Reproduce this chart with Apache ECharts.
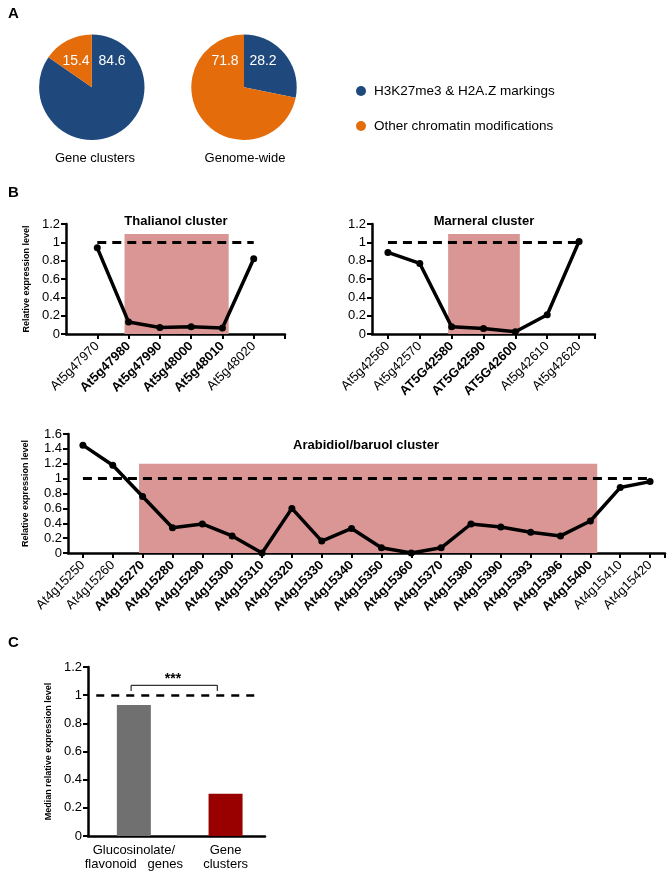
<!DOCTYPE html>
<html><head><meta charset="utf-8">
<script src="https://cdn.jsdelivr.net/npm/echarts@6/dist/echarts.min.js"></script>
<style>html,body{margin:0;padding:0;background:#fff}#c{width:672px;height:875px}</style>
</head><body><div id="c"></div>
<script>
// ---- data ----
const pieNames = ['H3K27me3 & H2A.Z markings', 'Other chromatin modifications'];
const pieGeneClusters = [84.6, 15.4];
const pieGenomeWide = [28.2, 71.8];
const pieTitles = ['Gene clusters', 'Genome-wide'];

const thalGenes = ['At5g47970','At5g47980','At5g47990','At5g48000','At5g48010','At5g48020'];
const thalValues = [0.94, 0.13, 0.07, 0.08, 0.065, 0.82];
const thalInCluster = [false, true, true, true, true, false];
const thalBox = [0.87, 4.2, 1.09];

const marGenes = ['At5g42560','At5g42570','AT5G42580','AT5G42590','AT5G42600','At5g42610','At5g42620'];
const marValues = [0.89, 0.77, 0.08, 0.06, 0.025, 0.21, 1.01];
const marInCluster = [false, false, true, true, true, false, false];
const marBox = [1.89, 4.14, 1.09];

const araGenes = ['At4g15250','At4g15260','At4g15270','At4g15280','At4g15290','At4g15300','At4g15310','At4g15320','At4g15330','At4g15340','At4g15350','At4g15360','At4g15370','At4g15380','At4g15390','At4g15393','At4g15396','At4g15400','At4g15410','At4g15420'];
const araValues = [1.45, 1.18, 0.76, 0.34, 0.39, 0.23, 0.0, 0.60, 0.16, 0.33, 0.07, 0.0, 0.07, 0.39, 0.35, 0.28, 0.23, 0.43, 0.88, 0.96];
const araInCluster = [false,false,true,true,true,true,true,true,true,true,true,true,true,true,true,true,true,true,false,false];
const araBox = [1.88, 17.23, 1.2];

const medCategories = ['Glucosinolate/\nflavonoid   genes', 'Gene\nclusters'];
const medValues = [0.93, 0.30];
const refLevel = 1;

// ---- styles ----
const FF = '"Liberation Sans", Arial, sans-serif';
const pieColors = ['#1F497D', '#E46C0A'];
const boxColor = '#D99694';
const barColors = ['#707070', '#990000'];

function gridDef(l, t, w, h) { return { left: l, top: t, width: w, height: h, outerBoundsMode: 'none', containLabel: false }; }

function xAxisDef(idx, genes, inCl, min, max, tickVals) {
  return {
    type: 'value', gridIndex: idx, min: min, max: max,
    axisLine: { show: true, onZero: false, lineStyle: { color: '#000', width: 2.5 } },
    axisTick: { show: true, length: 5, customValues: tickVals, lineStyle: { color: '#000', width: 2 } },
    splitLine: { show: false },
    axisLabel: {
      customValues: genes.map((g, i) => i), rotate: 45, margin: 10, color: '#000',
      formatter: v => { const i = Math.round(v); return (inCl[i] ? '{b|' : '{n|') + genes[i] + '}'; },
      rich: { b: { fontWeight: 'bold', fontSize: 13, fontFamily: FF, color: '#000' }, n: { fontSize: 13, fontFamily: FF, color: '#000' } }
    }
  };
}
function yAxisDef(idx, max, name, gap) {
  return {
    type: 'value', gridIndex: idx, min: 0, max: max, interval: 0.2,
    name: name, nameLocation: 'middle', nameGap: gap, nameRotate: 90,
    nameTextStyle: { fontSize: 9, fontWeight: 'bold', fontFamily: FF, color: '#000' },
    axisLine: { show: true, onZero: false, lineStyle: { color: '#000', width: 2.5 } },
    axisTick: { show: true, length: 5, lineStyle: { color: '#000', width: 2 } },
    splitLine: { show: false },
    axisLabel: { color: '#000', fontSize: 13, fontFamily: FF, margin: 6 }
  };
}
function lineSeries(idx, values, box) {
  return {
    type: 'line', xAxisIndex: idx, yAxisIndex: idx, silent: true, z: 5,
    data: values.map((v, i) => [i, v]),
    symbol: 'circle', symbolSize: 7, itemStyle: { color: '#000' },
    lineStyle: { color: '#000', width: 3.5 },
    markArea: { silent: true, itemStyle: { color: boxColor, opacity: 1, borderWidth: 0 },
      data: [[{ coord: [box[0], 0] }, { coord: [box[1], box[2]] }]] },
    markLine: { silent: true, symbol: ['none', 'none'], label: { show: false },
      lineStyle: { color: '#000', type: [9, 6], width: 3 },
      data: [[{ coord: [0, refLevel] }, { coord: [values.length - 1, refLevel] }]] }
  };
}
function range(a, b) { const r = []; for (let i = a; i <= b; i++) r.push(i); return r; }

function txt(x, y, s, size, bold, color, align) {
  return { type: 'text', x: x, y: y, z: 100, zlevel: 0, style: { text: s, fontSize: size, fontWeight: bold ? 'bold' : 'normal', fontFamily: FF,
    fill: color || '#000', align: align || 'center', verticalAlign: 'middle' } };
}

const chart = echarts.init(document.getElementById('c'), null, { renderer: 'canvas' });
chart.setOption({
  animation: false,
  backgroundColor: '#fff',
  legend: {
    orient: 'vertical', left: 356, top: 84, padding: 0, itemWidth: 10, itemHeight: 10, itemGap: 21,
    icon: 'circle', data: pieNames, selectedMode: false,
    textStyle: { fontSize: 13.5, color: '#000', fontFamily: FF, padding: [0, 0, 0, 3] }
  },
  grid: [gridDef(66, 224, 219, 110), gridDef(372, 224, 223, 110), gridDef(68, 434, 597, 119), gridDef(88, 667, 177, 169)],
  xAxis: [
    xAxisDef(0, thalGenes, thalInCluster, -1, 6, range(0, 6)),
    xAxisDef(1, marGenes, marInCluster, -0.5, 6.5, range(0, 6).concat([6.5])),
    xAxisDef(2, araGenes, araInCluster, -0.5, 19.5, range(0, 19).concat([19.5])),
    {
      type: 'value', gridIndex: 3, min: -0.5, max: 1.43,
      axisLine: { show: true, onZero: false, lineStyle: { color: '#000', width: 2.5 } },
      axisTick: { show: false }, splitLine: { show: false },
      axisLabel: { customValues: [0, 1], color: '#000', fontSize: 13, fontFamily: FF, lineHeight: 14, margin: 7,
        formatter: v => medCategories[Math.round(v)] }
    }
  ],
  yAxis: [
    yAxisDef(0, 1.2, 'Relative expression level', 35),
    yAxisDef(1, 1.2, '', 30),
    yAxisDef(2, 1.6, 'Relative expression level', 38),
    yAxisDef(3, 1.2, 'Median relative expression level', 35)
  ],
  series: [
    { type: 'pie', center: [91.8, 87.2], radius: 52.7, startAngle: 90, silent: true, z: 2, label: { show: false }, labelLine: { show: false },
      data: pieNames.map((n, i) => ({ name: n, value: pieGeneClusters[i], itemStyle: { color: pieColors[i] } })) },
    { type: 'pie', center: [244, 87.2], radius: 52.7, startAngle: 90, silent: true, z: 2, label: { show: false }, labelLine: { show: false },
      data: pieNames.map((n, i) => ({ name: n, value: pieGenomeWide[i], itemStyle: { color: pieColors[i] } })) },
    lineSeries(0, thalValues, thalBox),
    lineSeries(1, marValues, marBox),
    lineSeries(2, araValues, araBox),
    { type: 'bar', xAxisIndex: 3, yAxisIndex: 3, barWidth: 34, silent: true,
      data: medValues.map((v, i) => ({ value: [i, v], itemStyle: { color: barColors[i] } })),
      markLine: { silent: true, symbol: ['none', 'none'], label: { show: false },
        lineStyle: { color: '#000', type: [8, 7], width: 2.5 },
        data: [[{ coord: [-0.41, refLevel] }, { coord: [1.37, refLevel] }]] } },
    { type: 'line', xAxisIndex: 3, yAxisIndex: 3, silent: true, symbol: 'none',
      lineStyle: { color: '#000', width: 1 },
      data: [[-0.03, 1.03], [-0.03, 1.07], [0.91, 1.07], [0.91, 1.03]] }
  ],
  graphic: { elements: [
    txt(8, 14, 'A', 15, true, '#000', 'left'),
    txt(8, 193, 'B', 15, true, '#000', 'left'),
    txt(8, 643, 'C', 15, true, '#000', 'left'),
    txt(76, 61, String(pieGeneClusters[1]), 14, false, '#fff'),
    txt(112, 61, String(pieGeneClusters[0]), 14, false, '#fff'),
    txt(225, 61, String(pieGenomeWide[1]), 14, false, '#fff'),
    txt(263, 61, String(pieGenomeWide[0]), 14, false, '#fff'),
    txt(95, 158, pieTitles[0], 13, false),
    txt(245, 158, pieTitles[1], 13, false),
    txt(176, 221, 'Thalianol cluster', 13, true),
    txt(484, 221, 'Marneral cluster', 13, true),
    txt(366, 445, 'Arabidiol/baruol cluster', 13, true),
    txt(173, 679, '***', 14, true)
  ] }
});
</script></body></html>
